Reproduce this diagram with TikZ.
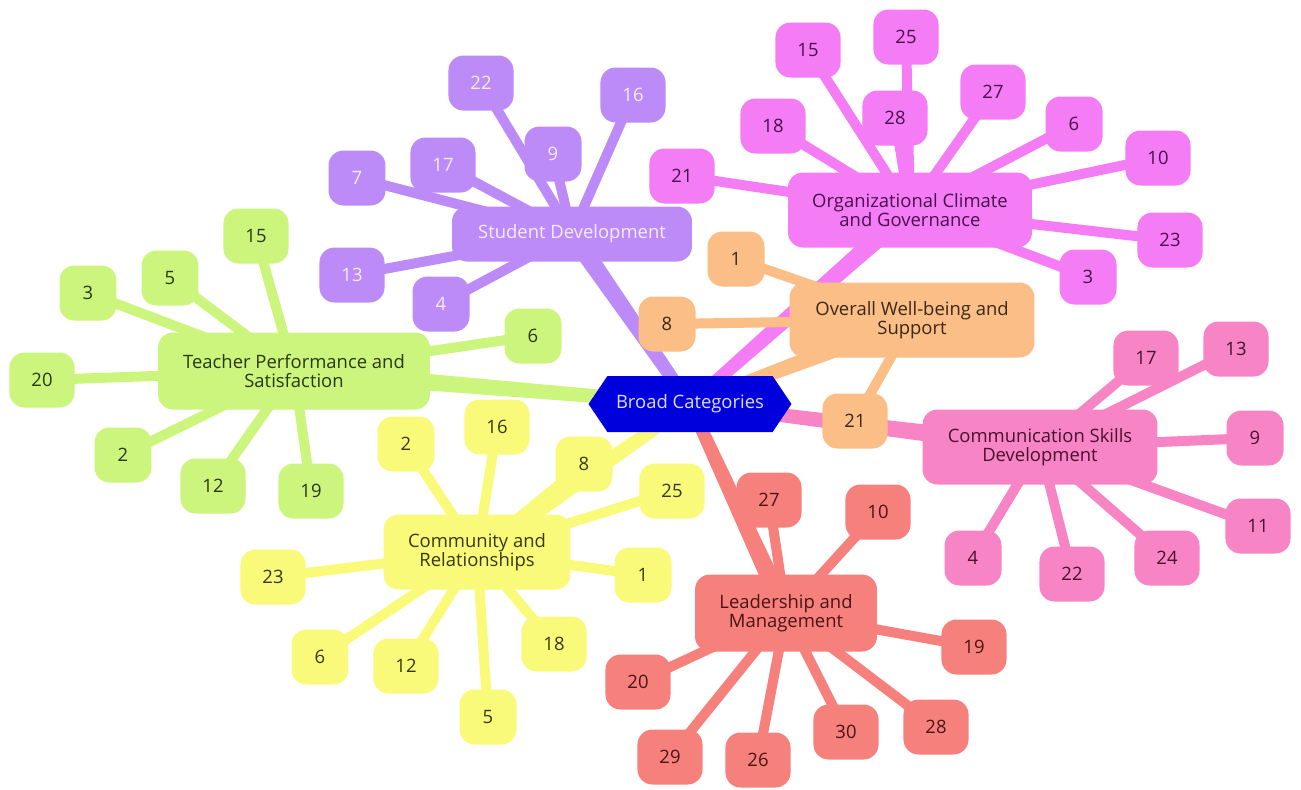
\documentclass[tikz,border=0pt]{standalone}
\usepackage{fontspec}
\setmainfont{Open Sans}
\usetikzlibrary{shapes.symbols,calc}
\definecolor{cpurple}{HTML}{BD8BF8}
\definecolor{cgreen}{HTML}{CCF57D}
\definecolor{cmag}{HTML}{F47CF4}
\definecolor{corange}{HTML}{FABE86}
\definecolor{cpink}{HTML}{F785C5}
\definecolor{cyellow}{HTML}{FAFA7A}
\definecolor{cred}{HTML}{F6817C}
\definecolor{cblue}{HTML}{0000DC}
\definecolor{tpurple}{HTML}{F4ECFF}
\definecolor{tgreen}{HTML}{2A3812}
\definecolor{tmag}{HTML}{48104E}
\definecolor{torange}{HTML}{3C2814}
\definecolor{tpink}{HTML}{4A1030}
\definecolor{tyellow}{HTML}{383812}
\definecolor{tred}{HTML}{4A1414}
\definecolor{tblue}{HTML}{DCDCFF}
\pgfdeclarelayer{bgmain}
\pgfdeclarelayer{bglink}
\pgfsetlayers{bgmain,bglink,main}
\newcommand\mmtaper[3]{%
  \fill[#1] let \p1=(#2.center), \p2=(#3.center), \n1={atan2(\y2-\y1,\x2-\x1)} in
    ($(\p1)+(\n1+90:0.19cm)$) -- ($(\p2)+(\n1+90:0.12cm)$) --
    ($(\p2)+(\n1-90:0.12cm)$) -- ($(\p1)+(\n1-90:0.19cm)$) -- cycle;}
\begin{document}
\begin{tikzpicture}[x=0.02cm,y=-0.02cm,
  font=\fontsize{10.5}{11}\selectfont,
  leaf/.style={rounded corners=0.3cm, minimum height=1.1cm, minimum width=1.14cm, inner xsep=0.44cm, inner ysep=0pt},
  cat/.style={rounded corners=0.3cm, align=center, inner sep=0pt},
  link/.style={line width=0.2cm},
  purplebox/.style={fill=cpurple, text=tpurple},
  greenbox/.style={fill=cgreen, text=tgreen},
  magbox/.style={fill=cmag, text=tmag},
  orangebox/.style={fill=corange, text=torange},
  pinkbox/.style={fill=cpink, text=tpink},
  yellowbox/.style={fill=cyellow, text=tyellow},
  redbox/.style={fill=cred, text=tred}]
\useasboundingbox (0,0) rectangle (1301,789);

% centre
\node[shape=signal, signal to=west and east, signal pointer angle=112, fill=cblue, text=tblue,
      minimum width=4.06cm, minimum height=1.12cm, inner sep=0pt] (bc) at (690,404) {Broad Categories};

% categories
\node[cat, purplebox, minimum width=4.8cm, minimum height=1.1cm] (sd) at (572,234) {Student Development};
\node[cat, greenbox, minimum width=5.44cm, minimum height=1.54cm] (tp) at (294,371) {Teacher Performance and\\Satisfaction};
\node[cat, magbox, minimum width=4.88cm, minimum height=1.5cm] (oc) at (910,210) {Organizational Climate\\and Governance};
\node[cat, orangebox, minimum width=4.9cm, minimum height=1.5cm] (ow) at (912,320) {Overall Well-being and\\Support};
\node[cat, pinkbox, minimum width=4.7cm, minimum height=1.5cm] (cs) at (1040,447) {Communication Skills\\Development};
\node[cat, yellowbox, minimum width=3.74cm, minimum height=1.5cm] (cr) at (477,552) {Community and\\Relationships};
\node[cat, redbox, minimum width=3.64cm, minimum height=1.54cm] (lm) at (786,613) {Leadership and\\Management};

\begin{pgfonlayer}{bgmain}
  \mmtaper{cpurple}{sd}{bc}
  \mmtaper{cgreen}{tp}{bc}
  \mmtaper{cmag}{oc}{bc}
  \mmtaper{corange}{ow}{bc}
  \mmtaper{cpink}{cs}{bc}
  \mmtaper{cyellow}{cr}{bc}
  \mmtaper{cred}{lm}{bc}
\end{pgfonlayer}

% Student Development
\foreach \t/\x/\y in {22/481/83, 16/633/95, 9/553/154, 17/443/165, 7/357/178, 13/352/275, 4/441/304} {
  \node[leaf, purplebox] (sd\t) at (\x,\y) {\t};
  \begin{pgfonlayer}{bglink}\draw[link, cpurple] (sd.center) -- (sd\t.center);\end{pgfonlayer}
}
% Teacher Performance
\foreach \t/\x/\y in {15/256/236, 5/170/278, 3/88/293, 20/42/380, 2/123/455, 12/213/486, 19/311/491, 6/533/336} {
  \node[leaf, greenbox] (tp\t) at (\x,\y) {\t};
  \begin{pgfonlayer}{bglink}\draw[link, cgreen] (tp.center) -- (tp\t.center);\end{pgfonlayer}
}
% Organizational Climate
\foreach \t/\x/\y in {15/808/50, 25/906/37, 18/773/126, 28/895/118, 27/993/92, 6/1074/124, 10/1158/158, 21/682/176, 23/1170/240, 3/1088/277} {
  \node[leaf, magbox] (oc\t) at (\x,\y) {\t};
  \begin{pgfonlayer}{bglink}\draw[link, cmag] (oc.center) -- (oc\t.center);\end{pgfonlayer}
}
% Overall Well-being
\foreach \t/\x/\y in {1/736/259, 8/667/324, 21/855/421} {
  \node[leaf, orangebox] (ow\t) at (\x,\y) {\t};
  \begin{pgfonlayer}{bglink}\draw[link, corange] (ow.center) -- (ow\t.center);\end{pgfonlayer}
}
% Communication Skills
\foreach \t/\x/\y in {17/1146/358, 13/1236/349, 9/1255/438, 11/1258/526, 24/1167/558, 22/1072/574, 4/973/558} {
  \node[leaf, pinkbox] (cs\t) at (\x,\y) {\t};
  \begin{pgfonlayer}{bglink}\draw[link, cpink] (cs.center) -- (cs\t.center);\end{pgfonlayer}
}
% Community and Relationships
\foreach \t/\x/\y in {2/406/444, 16/497/427, 8/584/464, 25/672/491, 1/643/575, 18/554/644, 5/488/717, 12/406/666, 6/320/657, 23/273/577} {
  \node[leaf, yellowbox] (cr\t) at (\x,\y) {\t};
  \begin{pgfonlayer}{bglink}\draw[link, cyellow] (cr.center) -- (cr\t.center);\end{pgfonlayer}
}
% Leadership and Management
\foreach \t/\x/\y in {27/769/500, 10/878/512, 19/974/647, 28/936/727, 30/846/732, 26/758/760, 29/670/757, 20/638/682} {
  \node[leaf, redbox] (lm\t) at (\x,\y) {\t};
  \begin{pgfonlayer}{bglink}\draw[link, cred] (lm.center) -- (lm\t.center);\end{pgfonlayer}
}
\end{tikzpicture}
\end{document}
